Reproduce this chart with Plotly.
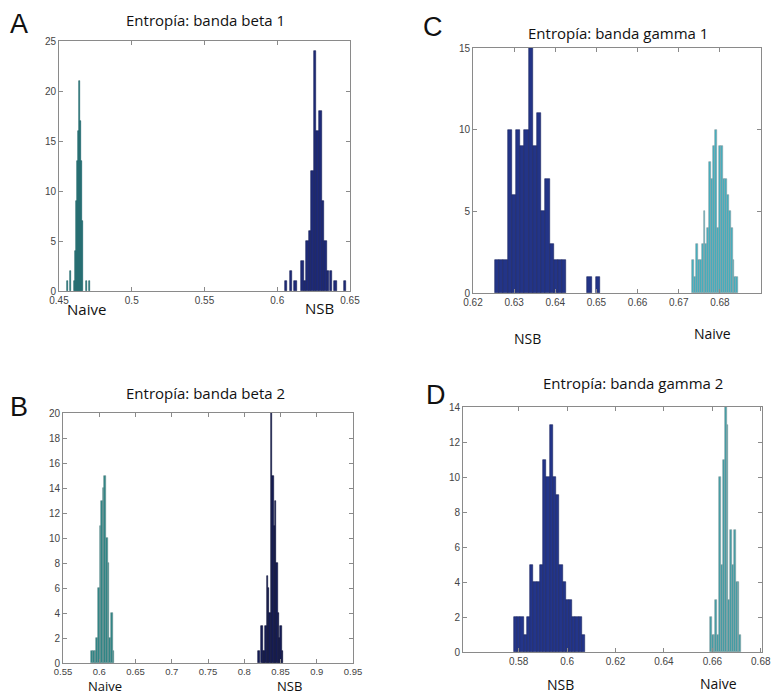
import plotly.graph_objects as go

W, H = 771, 695

# ---------------- data (bin centres, counts, bin width) ----------------
# Panel A: Entropía banda beta 1
a_naive_x = [0.4560, 0.4581, 0.4608, 0.4615, 0.4622, 0.4629, 0.4636, 0.4643, 0.4650, 0.4657, 0.4664, 0.4691, 0.4712]
a_naive_y = [1, 2, 1, 4, 9, 13, 16, 21, 17, 13, 7, 1, 1]
a_naive_w = 0.00069
a_nsb_x = [0.6060, 0.6095, 0.6125, 0.6172, 0.6190, 0.6206, 0.6224, 0.6242, 0.6260, 0.6278, 0.6296, 0.6314, 0.6332, 0.6350, 0.6368, 0.6402, 0.6466]
a_nsb_y = [1, 2, 1, 3, 1, 5, 6, 12, 24, 16, 18, 9, 5, 2, 2, 1, 1]
a_nsb_w = 0.00178

# Panel B: Entropía banda beta 2
b_naive_x = [0.5904, 0.5926, 0.5948, 0.5971, 0.5993, 0.6015, 0.6038, 0.6060, 0.6082, 0.6105, 0.6127, 0.6149, 0.6172, 0.6194]
b_naive_y = [1, 1, 1, 2, 6, 11, 13, 14, 15, 10, 8, 2, 4, 1]
b_naive_w = 0.0022
b_nsb_x = [0.8201, 0.8243, 0.8262, 0.8281, 0.8300, 0.8319, 0.8338, 0.8357, 0.8376, 0.8395, 0.8414, 0.8433, 0.8452, 0.8471, 0.8490, 0.8509, 0.8528]
b_nsb_y = [1, 3, 1, 1, 3, 7, 6, 4, 20, 15, 11, 13, 8, 4, 2, 3, 1]
b_nsb_w = 0.0019

# Panel C: Entropía banda gamma 1
c_nsb_x = [0.6259, 0.6269, 0.6279, 0.6290, 0.6300, 0.6310, 0.6320, 0.6330, 0.6341, 0.6351, 0.6361,
           0.6371, 0.6381, 0.6392, 0.6402, 0.6412, 0.6422, 0.6483, 0.6504]
c_nsb_y = [2, 2, 2, 10, 6, 10, 9, 10, 15, 9, 11, 5, 7, 3, 2, 2, 2, 1, 1]
c_nsb_w = 0.00102
c_naive_x = [0.67344, 0.67391, 0.67438, 0.67485, 0.67532, 0.67579, 0.67626, 0.67673, 0.67720, 0.67767,
             0.67814, 0.67861, 0.67908, 0.67955, 0.68002, 0.68049, 0.68096, 0.68143, 0.68190, 0.68237,
             0.68284, 0.68331, 0.68378, 0.68425]
c_naive_y = [2, 1, 3, 2, 2, 3, 5, 3, 4, 8, 7, 9, 10, 4, 9, 9, 7, 7, 6, 5, 4, 2, 1, 1]
c_naive_w = 0.00047

# Panel D: Entropía banda gamma 2
d_nsb_x = [0.57867, 0.58001, 0.58135, 0.58269, 0.58403, 0.58537, 0.58671, 0.58805, 0.58939, 0.59073, 0.59207,
           0.59341, 0.59475, 0.59609, 0.59743, 0.59877, 0.60011, 0.60145, 0.60279, 0.60413, 0.60547, 0.60681]
d_nsb_y = [2, 2, 2, 1, 2, 5, 4, 4, 5, 11, 10, 13, 10, 9, 5, 4, 3, 3, 2, 2, 2, 1]
d_nsb_w = 0.00134
d_naive_x = [0.65938, 0.66014, 0.66090, 0.66166, 0.66242, 0.66318, 0.66394, 0.66470, 0.66546, 0.66622,
             0.66698, 0.66774, 0.66850, 0.66926, 0.67002, 0.67078, 0.67154]
d_naive_y = [2, 1, 1, 3, 1, 10, 5, 11, 14, 13, 3, 7, 5, 7, 4, 4, 1]
d_naive_w = 0.00076

# tick labels
a_xticks = [0.45, 0.5, 0.55, 0.6, 0.65]
a_xlabels = ["0.45", "0.5", "0.55", "0.6", "0.65"]
a_yticks = [0, 5, 10, 15, 20, 25]
b_xticks = [0.55, 0.6, 0.65, 0.7, 0.75, 0.8, 0.85, 0.9, 0.95]
b_xlabels = ["0.55", "0.6", "0.65", "0.7", "0.75", "0.8", "0.85", "0.9", "0.95"]
b_yticks = [0, 2, 4, 6, 8, 10, 12, 14, 16, 18, 20]
c_xticks = [0.62, 0.63, 0.64, 0.65, 0.66, 0.67, 0.68, 0.69]
c_xlabels = ["0.62", "0.63", "0.64", "0.65", "0.66", "0.67", "0.68", "0.69"]
c_yticks = [0, 5, 10, 15]
d_xticks = [0.58, 0.6, 0.62, 0.64, 0.66, 0.68]
d_xlabels = ["0.58", "0.6", "0.62", "0.64", "0.66", "0.68"]
d_yticks = [0, 2, 4, 6, 8, 10, 12, 14]

titles = ["Entropía: banda beta 1", "Entropía: banda beta 2",
          "Entropía: banda gamma 1", "Entropía: banda gamma 2"]

# ---------------- styling ----------------
TEAL_A = "#267e84"; NAVY_A = "#1e2a78"
TEAL_B = "#2a8585"; NAVY_B = "#161d58"
NAVY_C = "#233487"; TEAL_C = "#3fb0c0"
NAVY_D = "#23358a"; TEAL_D = "#3f9ca4"

fig = go.Figure()

def bars(x, y, w, color, edge, ax):
    fig.add_trace(go.Bar(x=x, y=y, width=w, marker=dict(color=color, line=dict(color=edge, width=0.6)),
                         xaxis="x" + ax, yaxis="y" + ax, showlegend=False))

bars(a_naive_x, a_naive_y, a_naive_w, TEAL_A, "#1d5f63", "")
bars(a_nsb_x, a_nsb_y, a_nsb_w, NAVY_A, "#141c55", "")
bars(b_naive_x, b_naive_y, b_naive_w, TEAL_B, "#6a8f90", "2")
bars(b_nsb_x, b_nsb_y, b_nsb_w, NAVY_B, "#0d1238", "2")
bars(c_nsb_x, c_nsb_y, c_nsb_w, NAVY_C, "#1a2460", "3")
bars(c_naive_x, c_naive_y, c_naive_w, TEAL_C, "#8a9ea3", "3")
bars(d_nsb_x, d_nsb_y, d_nsb_w, NAVY_D, "#1a2560", "4")
bars(d_naive_x, d_naive_y, d_naive_w, TEAL_D, "#8aa0a3", "4")

def px_dom(x0, x1):
    return [x0 / W, x1 / W]

def py_dom(top, bottom):
    return [1 - bottom / H, 1 - top / H]

TICKFONT = "Liberation Sans Narrow, Liberation Sans, Arial"

def xaxis(dom, rng, tv, tt, anchor, fs):
    return dict(domain=dom, range=rng, tickvals=tv, ticktext=tt, anchor=anchor, automargin=False,
                showline=True, mirror="allticks", linecolor="#8a8a8a", linewidth=1,
                ticks="inside", ticklen=4, tickcolor="#8a8a8a", showgrid=False, zeroline=False,
                tickfont=dict(family=TICKFONT, size=fs, color="#444"), fixedrange=True)

def yaxis(dom, rng, tv, anchor, fs):
    return dict(domain=dom, range=rng, tickvals=tv, anchor=anchor, automargin=False,
                showline=True, mirror="allticks", linecolor="#8a8a8a", linewidth=1,
                ticks="inside", ticklen=4, tickcolor="#8a8a8a", showgrid=False, zeroline=False,
                tickfont=dict(family=TICKFONT, size=fs, color="#444"), fixedrange=True)

fig.update_layout(
    width=W, height=H, margin=dict(l=0, r=0, t=0, b=0, autoexpand=False),
    paper_bgcolor="white", plot_bgcolor="white", barmode="overlay", bargap=0,
    xaxis=xaxis(px_dom(59, 350), [0.45, 0.65], a_xticks, a_xlabels, "y", 10),
    yaxis=yaxis(py_dom(41, 291), [0, 25], a_yticks, "x", 10),
    xaxis2=xaxis(px_dom(63, 353), [0.55, 0.95], b_xticks, b_xlabels, "y2", 9.5),
    yaxis2=yaxis(py_dom(413, 663), [0, 20], b_yticks, "x2", 10),
    xaxis3=xaxis(px_dom(473, 761), [0.62, 0.69], c_xticks, c_xlabels, "y3", 10),
    yaxis3=yaxis(py_dom(48, 293), [0, 15], c_yticks, "x3", 10),
    xaxis4=xaxis(px_dom(463, 762), [0.557, 0.6805], d_xticks, d_xlabels, "y4", 10),
    yaxis4=yaxis(py_dom(407, 652), [0, 14], d_yticks, "x4", 10),
)

TXT = "Open Sans, Noto Sans, Arial"

def label(text, px, py, size, family=TXT):
    fig.add_annotation(text=text, x=px / W, y=1 - py / H, xref="paper", yref="paper",
                       showarrow=False, xanchor="center", yanchor="middle", borderpad=0,
                       font=dict(family=family, size=size, color="#111"))

# titles
label(titles[0], 205, 20, 15)
label(titles[1], 205, 393, 15)
label(titles[2], 618, 33, 15)
label(titles[3], 633, 383, 15)

# panel letters
label("A", 19, 24, 27, "Liberation Sans, Arial")
label("B", 19, 407, 27, "Liberation Sans, Arial")
label("C", 433, 27, 27, "Liberation Sans, Arial")
label("D", 436, 395, 27, "Liberation Sans, Arial")

# group labels
label("Naive", 86, 309, 15)
label("NSB", 319, 308, 15)
label("Naive", 105, 686, 13)
label("NSB", 289, 686, 13)
label("NSB", 527, 338, 14)
label("Naive", 712, 333, 14)
label("NSB", 560, 684, 14)
label("Naive", 718, 683, 14)

fig.write_html("out.html", config={"displayModeBar": False},
               post_script="document.body.style.margin='0px';document.body.style.overflow='hidden';")
